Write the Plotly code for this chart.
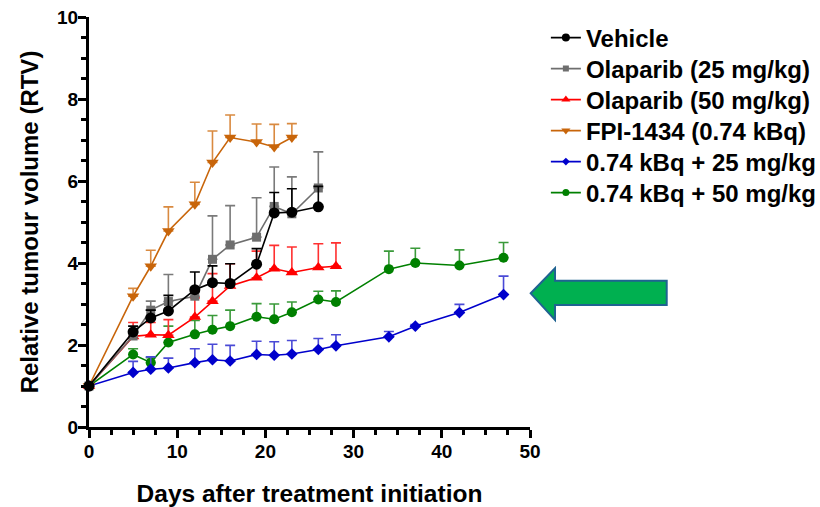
import plotly.graph_objects as go

# ---------------- data ----------------
days_short = [0, 5, 7, 9, 12, 14, 16, 19, 21, 23, 26]
days_ola50 = [0, 5, 7, 9, 12, 14, 16, 19, 21, 23, 26, 28]
days_fpi = [0, 5, 7, 9, 12, 14, 16, 19, 21, 23]
days_long = [0, 5, 7, 9, 12, 14, 16, 19, 21, 23, 26, 28, 34, 37, 42, 47]

vehicle = [1, 2.32, 2.66, 2.83, 3.35, 3.52, 3.50, 3.97, 5.22, 5.24, 5.37]
vehicle_sem = [0, 0.14, 0.19, 0.38, 0.43, 0.41, 0.48, 0.38, 0.50, 0.57, 0.50]

ola25 = [1, 2.22, 2.85, 3.06, 3.19, 4.09, 4.44, 4.63, 5.38, 5.20, 5.83]
ola25_sem = [0, 0.08, 0.22, 0.66, 0.11, 1.06, 0.96, 0.96, 0.96, 0.90, 0.88]

ola50 = [1, 2.21, 2.25, 2.24, 2.68, 3.07, 3.44, 3.64, 3.86, 3.77, 3.89, 3.92]
ola50_sem = [0, 0.34, 0.30, 0.38, 0.47, 0.67, 0.54, 0.65, 0.57, 0.62, 0.58, 0.57]

fpi = [1, 3.19, 3.92, 4.78, 5.43, 6.45, 7.06, 6.95, 6.83, 7.06]
fpi_sem = [0, 0.19, 0.39, 0.59, 0.54, 0.77, 0.55, 0.44, 0.55, 0.34]

combo25 = [1, 1.33, 1.41, 1.44, 1.57, 1.64, 1.61, 1.77, 1.75, 1.78, 1.89, 1.98, 2.20, 2.46, 2.79, 3.23]
combo25_sem = [0, 0.27, 0.30, 0.24, 0.34, 0.38, 0.38, 0.32, 0.33, 0.33, 0.27, 0.27, 0.13, 0.04, 0.20, 0.45]

combo50 = [1, 1.77, 1.57, 2.06, 2.26, 2.37, 2.46, 2.69, 2.63, 2.80, 3.11, 3.05, 3.85, 4.00, 3.94, 4.13]
combo50_sem = [0, 0.14, 0.12, 0.40, 0.34, 0.35, 0.39, 0.32, 0.37, 0.25, 0.20, 0.27, 0.44, 0.36, 0.38, 0.37]

names = ["Vehicle", "Olaparib (25 mg/kg)", "Olaparib (50 mg/kg)",
         "FPI-1434 (0.74 kBq)", "0.74 kBq + 25 mg/kg", "0.74 kBq + 50 mg/kg"]

x_ticks = [0, 10, 20, 30, 40, 50]
y_ticks = [0, 2, 4, 6, 8, 10]

FONT = "Liberation Sans, Arial, sans-serif"

# name, x, y, sem, line color, error color, symbol, size, legend row
series = [
    (names[5], days_long, combo50, combo50_sem, "#008000", "#3a9a3a", "circle", 10, 5),
    (names[4], days_long, combo25, combo25_sem, "#0000cc", "#4a4ad6", "diamond", 9, 4),
    (names[3], days_fpi, fpi, fpi_sem, "#c8650a", "#d98a40", "triangle-down", 11, 3),
    (names[2], days_ola50, ola50, ola50_sem, "#ff0000", "#ff3030", "triangle-up", 11, 2),
    (names[1], days_short, ola25, ola25_sem, "#6e6e6e", "#7a7a7a", "square", 9, 1),
    (names[0], days_short, vehicle, vehicle_sem, "#000000", "#000000", "circle", 11, 0),
]

fig = go.Figure()
for name, xs, ys, sem, col, ecol, sym, size, row in series:
    fig.add_trace(go.Scatter(
        x=xs, y=ys, name=name, mode="lines+markers", showlegend=False,
        line=dict(color=col, width=1.6),
        marker=dict(symbol=sym, size=size, color=col, line=dict(width=0)),
        error_y=dict(type="data", symmetric=False, array=sem,
                     arrayminus=[0] * len(sem), color=ecol,
                     thickness=1.6, width=5),
        cliponaxis=False,
    ))

# one single-entry legend per series so the row spacing matches the reference
legend_layouts = {}
for name, xs, ys, sem, col, ecol, sym, size, row in series:
    key = "legend" if row == 0 else "legend%d" % (row + 1)
    fig.add_trace(go.Scatter(
        x=[None], y=[None], name=name, mode="lines+markers",
        line=dict(color=col, width=1.6),
        marker=dict(symbol=sym, size=max(size - 3, 6), color=col, line=dict(width=0)),
        legend=key,
    ))
    center_px = 38 + 31 * row
    legend_layouts[key] = dict(
        x=1.036, y=(427 - center_px) / 410, xanchor="left", yanchor="middle",
        itemwidth=30, bgcolor="rgba(0,0,0,0)",
        font=dict(family=FONT, size=24, color="black", weight="bold"),
    )

# Left-pointing highlight arrow (paper coordinates)
def px2paper(px, py):
    return (px - 89) / 441, (427 - py) / 410

pts = [(530.7, 293.3), (555, 268.3), (555, 280.7), (666.7, 280.7),
       (666.7, 305), (555, 305), (555, 320)]
path = "M " + " L ".join("%.4f,%.4f" % px2paper(*p) for p in pts) + " Z"
fig.add_shape(type="path", path=path, xref="paper", yref="paper",
              fillcolor="#00b050", line=dict(color="#1f6391", width=2))

axis_common = dict(
    showline=True, linecolor="black", linewidth=3, mirror=False,
    showgrid=False, zeroline=False, ticks="outside", ticklen=8,
    tickwidth=2.5, tickcolor="black", automargin=False,
    tickfont=dict(family=FONT, size=19, color="black", weight="bold"),
)

fig.update_layout(
    width=820, height=507,
    margin=dict(l=89, r=290, t=17, b=80, autoexpand=False),
    paper_bgcolor="white", plot_bgcolor="white",
    xaxis=dict(range=[0, 50], tickvals=x_ticks, ticklabelstandoff=-3,
               minor=dict(dtick=2.5, ticks="outside", ticklen=5, tickwidth=2.5, tickcolor="black"),
               title=dict(text="Days after treatment initiation",
                          font=dict(family=FONT, size=24.5, color="black", weight="bold"),
                          standoff=26),
               **axis_common),
    yaxis=dict(range=[0, 10], tickvals=y_ticks, ticklabelstandoff=-4,
               minor=dict(dtick=0.5, ticks="outside", ticklen=5, tickwidth=2.5, tickcolor="black"),
               title=dict(text="Relative tumour volume (RTV)",
                          font=dict(family=FONT, size=24, color="black", weight="bold"),
                          standoff=12),
               **axis_common),
    showlegend=True,
    **legend_layouts,
)

fig.write_html("out.html", config={"displayModeBar": False},
               post_script="document.body.style.margin='0';")
